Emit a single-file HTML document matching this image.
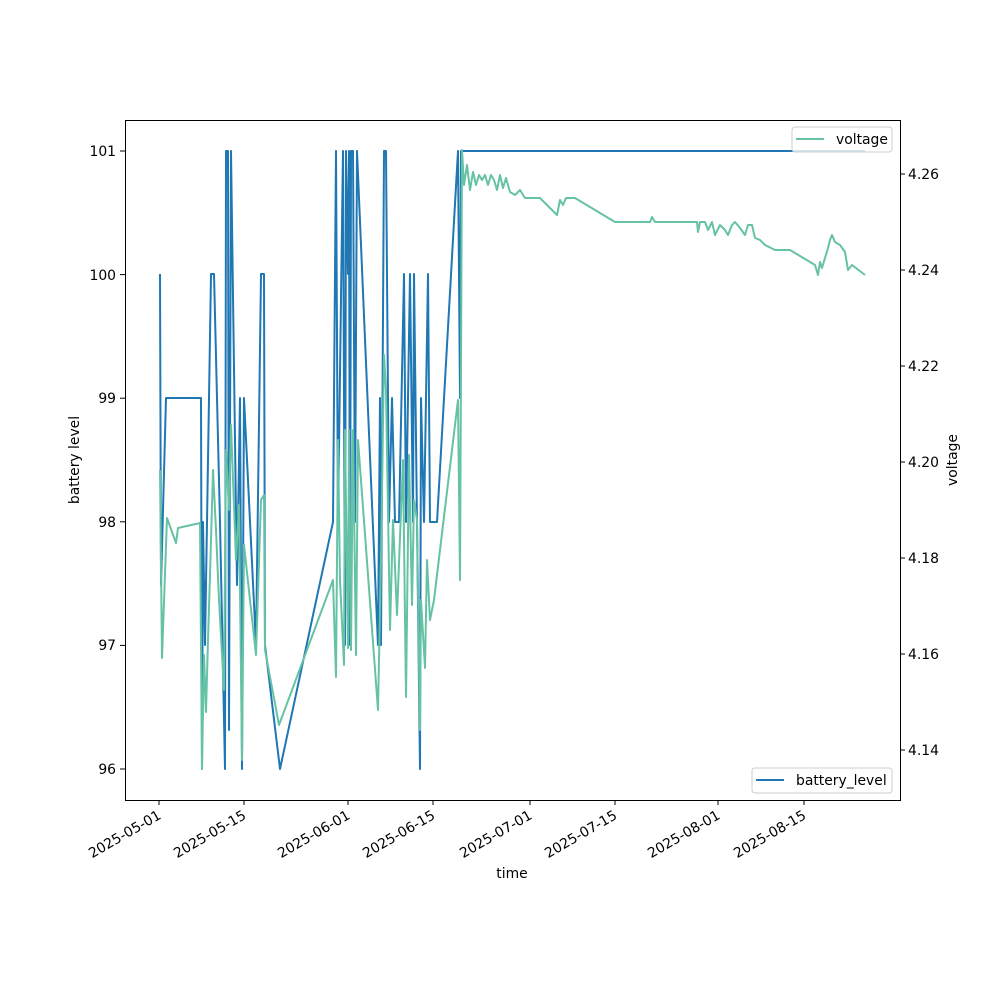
<!DOCTYPE html>
<html><head><meta charset="utf-8"><style>body{margin:0;background:#fff}svg{display:block}text{font-family:"DejaVu Sans","Liberation Sans",sans-serif;font-size:13.9px;fill:#000}</style></head>
<body>
<svg width="1000" height="1000" xmlns="http://www.w3.org/2000/svg">
<rect width="1000" height="1000" fill="#fff"/>
<g fill="none" stroke-linejoin="round">
<polyline stroke="#1f77b4" stroke-width="2" points="160,274 161,585 166,398 201,398 202,769 203,522 205,645 207,522 209,398 211,274 214,274 220,522 225,769 226,151 228,151 229,730 231,151 237,585 240,398 242,769 244,398 256,645 261,274 264,274 265,645 280,769 333,522 336,151 338,522 343,151 345,645 346,151 348,274 349,151 350,645 351,151 353,151 355,522 357,151 378,645 380,398 381,645 384,151 386,151 389,522 392,398 395,522 399,522 404,274 406,522 410,274 413,522 414,274 417,522 420,769 421,398 424,522 428,274 430,522 437,522 458,151 460,398 461,151 865,151"/>
<polyline stroke="#66c2a5" stroke-width="2" points="160,470 162,658 167,518 176,543 178,528 200,523 202,769 204,655 206,712 208,640 210,575 213,470 216,530 219,600 224,690 226,450 229,510 231,425 236,560 239,505 242,760 244,545 256,655 261,500 264,495 265,650 279,725 333,580 336,677 338,440 340,580 344,665 345,430 348,648 349,430 351,650 353,430 356,655 358,440 378,710 381,560 384,355 386,390 390,630 393,520 397,615 403,460 406,697 409,455 412,605 414,500 417,520 420,730 421,600 425,668 427,560 430,620 434,600 458,400 460,580 462,150 464,185 467,165 470,190 473,172 476,185 479,175 482,180 485,175 488,185 491,175 494,180 497,190 500,175 503,188 506,178 510,192 515,195 520,190 525,198 540,198 557,215 560,200 563,205 566,198 575,198 615,222 650,222 652,217 655,222 697,222 698,232 700,222 705,222 708,230 712,222 715,235 720,225 725,230 728,235 732,225 735,222 740,228 745,235 748,225 752,225 755,238 760,240 765,245 775,250 790,250 815,265 818,275 820,262 822,268 828,248 830,240 832,235 835,242 840,245 845,252 848,270 852,265 865,275"/>
</g>
<rect x="125.5" y="120.5" width="775" height="680" fill="none" stroke="#000" stroke-width="1"/>
<g stroke="#000" stroke-width="1">
<line x1="120" y1="151" x2="125" y2="151"/><line x1="120" y1="274.6" x2="125" y2="274.6"/><line x1="120" y1="398.2" x2="125" y2="398.2"/><line x1="120" y1="521.8" x2="125" y2="521.8"/><line x1="120" y1="645.4" x2="125" y2="645.4"/><line x1="120" y1="769" x2="125" y2="769"/>
<line x1="900" y1="174" x2="905" y2="174"/><line x1="900" y1="270" x2="905" y2="270"/><line x1="900" y1="366" x2="905" y2="366"/><line x1="900" y1="462" x2="905" y2="462"/><line x1="900" y1="558" x2="905" y2="558"/><line x1="900" y1="654" x2="905" y2="654"/><line x1="900" y1="750" x2="905" y2="750"/>
<line x1="159" y1="800" x2="159" y2="805"/><line x1="244" y1="800" x2="244" y2="805"/><line x1="348" y1="800" x2="348" y2="805"/><line x1="433" y1="800" x2="433" y2="805"/><line x1="530" y1="800" x2="530" y2="805"/><line x1="615" y1="800" x2="615" y2="805"/><line x1="718" y1="800" x2="718" y2="805"/><line x1="804" y1="800" x2="804" y2="805"/>
</g>
<g text-anchor="end">
<text x="116" y="156">101</text><text x="116" y="280">100</text><text x="116" y="403">99</text><text x="116" y="527">98</text><text x="116" y="650">97</text><text x="116" y="774">96</text>
</g>
<g>
<text x="908" y="179">4.26</text><text x="908" y="275">4.24</text><text x="908" y="371">4.22</text><text x="908" y="467">4.20</text><text x="908" y="563">4.18</text><text x="908" y="659">4.16</text><text x="908" y="755">4.14</text>
</g>
<g text-anchor="end">
<text transform="translate(162,818) rotate(-30)">2025-05-01</text>
<text transform="translate(247,818) rotate(-30)">2025-05-15</text>
<text transform="translate(351,818) rotate(-30)">2025-06-01</text>
<text transform="translate(436,818) rotate(-30)">2025-06-15</text>
<text transform="translate(533,818) rotate(-30)">2025-07-01</text>
<text transform="translate(618,818) rotate(-30)">2025-07-15</text>
<text transform="translate(721,818) rotate(-30)">2025-08-01</text>
<text transform="translate(807,818) rotate(-30)">2025-08-15</text>
</g>
<text x="512" y="878" text-anchor="middle">time</text>
<text transform="translate(79,460) rotate(-90)" text-anchor="middle">battery level</text>
<text transform="translate(957,460) rotate(-90)" text-anchor="middle">voltage</text>
<rect x="792" y="127" width="100" height="25" rx="3" fill="#fff" fill-opacity="0.8" stroke="#ccc"/>
<line x1="796" y1="139" x2="824" y2="139" stroke="#66c2a5" stroke-width="2"/>
<text x="836" y="144">voltage</text>
<rect x="752" y="768" width="140" height="25" rx="3" fill="#fff" fill-opacity="0.8" stroke="#ccc"/>
<line x1="756" y1="780" x2="784" y2="780" stroke="#1f77b4" stroke-width="2"/>
<text x="796" y="785">battery_level</text>
</svg>
</body></html>
